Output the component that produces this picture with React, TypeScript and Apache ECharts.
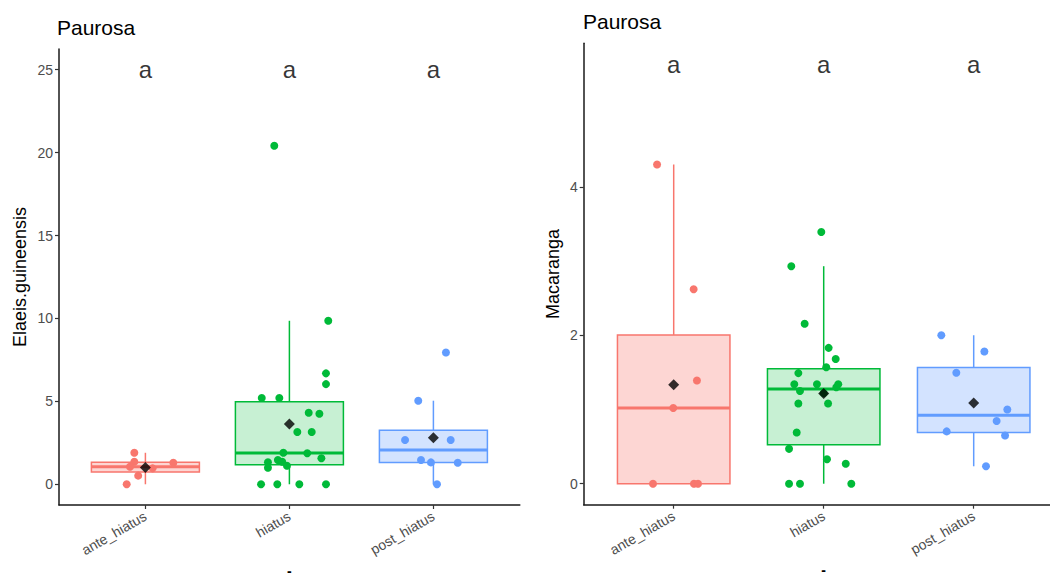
import React, { useEffect, useRef } from "react";
import * as echarts from "echarts";

// ---- data ----
const categories = ["ante_hiatus", "hiatus", "post_hiatus"];
const groupColors = ["#F8766D", "#00BA38", "#619CFF"];
const groupFills = ["rgba(248,118,109,0.3)", "rgba(0,186,56,0.22)", "rgba(97,156,255,0.28)"];
const panelTitles = ["Paurosa", "Paurosa"];
const yNames = ["Elaeis.guineensis", "Macaranga"];
const letters = ["a", "a", "a"];

// Elaeis.guineensis values and horizontal jitter (category units)
const elaeisAnte = [1.9, 1.36, 1.06, 0.52, 0, 1.3, 0.96];
const elaeisAnteJit = [-0.077, -0.077, -0.107, -0.05, -0.13, 0.194, 0.05];
const elaeisHiatus = [20.42, 9.86, 6.69, 6.04, 5.2, 5.2, 4.31, 4.25, 3.15, 3.15, 1.9, 1.87, 1.57, 1.46, 1.36, 1.33, 1.0, 1.12, 0, 0, 0, 0];
const elaeisHiatusJit = [-0.105, 0.27, 0.254, 0.254, -0.192, -0.07, 0.134, 0.208, 0.055, 0.155, -0.042, 0.124, 0.222, -0.08, -0.05, -0.149, -0.149, -0.017, -0.197, -0.084, 0.069, 0.254];
const elaeisPost = [7.95, 5.04, 2.67, 2.67, 1.46, 1.32, 1.3, 0];
const elaeisPostJit = [0.087, -0.105, -0.197, 0.12, -0.086, -0.017, 0.169, 0.025];

// Macaranga values and jitter
const macAnte = [4.3, 2.62, 1.39, 1.02, 0, 0, 0];
const macAnteJit = [-0.111, 0.133, 0.155, -0.003, -0.138, 0.135, 0.162];
const macHiatus = [3.39, 2.93, 2.155, 1.83, 1.68, 1.57, 1.49, 1.34, 1.34, 1.34, 1.3, 1.25, 1.22, 1.08, 1.08, 0.69, 0.47, 0.33, 0.27, 0, 0, 0];
const macHiatusJit = [-0.016, -0.216, -0.127, 0.033, 0.08, 0.017, -0.169, -0.196, -0.045, 0.097, 0.084, -0.158, 0.0, -0.169, 0.029, -0.18, -0.231, 0.022, 0.147, -0.231, -0.158, 0.184];
const macPost = [2.0, 1.78, 1.495, 1.0, 0.845, 0.705, 0.65, 0.235];
const macPostJit = [-0.216, 0.071, -0.116, 0.224, 0.153, -0.18, 0.209, 0.082];

// axis ranges / ticks / letter heights
const yMin = [-1.25, -0.2825];
const yMax = [26.25, 5.9325];
const yTicks = [[0, 5, 10, 15, 20, 25], [0, 2, 4]];
const letterY = [25, 5.65];

const panels = [
  { values: [elaeisAnte, elaeisHiatus, elaeisPost], jit: [elaeisAnteJit, elaeisHiatusJit, elaeisPostJit] },
  { values: [macAnte, macHiatus, macPost], jit: [macAnteJit, macHiatusJit, macPostJit] },
];

function quantile(sorted: number[], p: number) {
  const h = (sorted.length - 1) * p;
  const lo = Math.floor(h);
  const hi = Math.ceil(h);
  return sorted[lo] + (h - lo) * (sorted[hi] - sorted[lo]);
}
function boxStats(vals: number[]) {
  const s = [...vals].sort((a, b) => a - b);
  const q1 = quantile(s, 0.25);
  const med = quantile(s, 0.5);
  const q3 = quantile(s, 0.75);
  const iqr = q3 - q1;
  const lowF = q1 - 1.5 * iqr;
  const highF = q3 + 1.5 * iqr;
  const low = Math.min(...s.filter((v) => v >= lowF));
  const high = Math.max(...s.filter((v) => v <= highF));
  return [low, q1, med, q3, high];
}
const mean = (v: number[]) => v.reduce((a, b) => a + b, 0) / v.length;

const FONT = "Liberation Sans, Arial, Helvetica, sans-serif";

export default function App() {
  const ref = useRef<HTMLDivElement>(null);
  useEffect(() => {
    if (!ref.current) return;
    const chart = echarts.init(ref.current, undefined, { renderer: "svg" });

    const grids = [
      { left: 59, top: 49, width: 460.8, height: 456, outerBoundsMode: "none", containLabel: false },
      { left: 583.7, top: 43.3, width: 480, height: 461.4, outerBoundsMode: "none", containLabel: false },
    ];

    const xAxes: any[] = [];
    const yAxes: any[] = [];
    const series: any[] = [];

    panels.forEach((p, pi) => {
      xAxes.push({
        type: "value",
        gridIndex: pi,
        min: 0.4,
        max: 3.6,
        axisLine: { show: true, onZero: false, lineStyle: { color: "#1a1a1a", width: 1.5 } },
        axisTick: { show: true, customValues: [1, 2, 3], length: 4, lineStyle: { color: "#333", width: 1.2 } },
        axisLabel: {
          customValues: [1, 2, 3],
          formatter: (v: number) => categories[Math.round(v) - 1],
          rotate: 30,
          fontSize: 14,
          color: "#4D4D4D",
          fontFamily: FONT,
          margin: 10,
        },
        splitLine: { show: false },
        name: "-",
        nameLocation: "middle",
        nameGap: 54,
        nameTextStyle: { fontSize: 14, color: "#000", fontFamily: FONT, fontWeight: "bold" },
      });
      yAxes.push({
        type: "value",
        gridIndex: pi,
        min: yMin[pi],
        max: yMax[pi],
        axisLine: { show: true, onZero: false, lineStyle: { color: "#1a1a1a", width: 1.5 } },
        axisTick: { show: true, customValues: yTicks[pi], length: 4, lineStyle: { color: "#333", width: 1.2 } },
        axisLabel: { customValues: yTicks[pi], fontSize: 14, color: "#4D4D4D", fontFamily: FONT, margin: 6 },
        splitLine: { show: false },
        name: yNames[pi],
        nameLocation: "middle",
        nameGap: pi === 0 ? 30 : 22,
        nameTextStyle: { fontSize: 18, color: "#000", fontFamily: FONT },
      });

      const boxData = p.values.map((v, i) => [i + 1, ...boxStats(v)]);
      series.push({
        type: "custom",
        xAxisIndex: pi,
        yAxisIndex: pi,
        z: 1,
        data: boxData,
        renderItem: (params: any, api: any) => {
          const idx = params.dataIndex;
          const x = api.value(0);
          const low = api.coord([x, api.value(1)]);
          const q1 = api.coord([x, api.value(2)]);
          const med = api.coord([x, api.value(3)]);
          const q3 = api.coord([x, api.value(4)]);
          const high = api.coord([x, api.value(5)]);
          const halfW = api.size([0.75, 0])[0] / 2;
          const c = groupColors[idx];
          return {
            type: "group",
            children: [
              { type: "line", shape: { x1: high[0], y1: high[1], x2: q3[0], y2: q3[1] }, style: { stroke: c, lineWidth: 1.5 } },
              { type: "line", shape: { x1: low[0], y1: low[1], x2: q1[0], y2: q1[1] }, style: { stroke: c, lineWidth: 1.5 } },
              {
                type: "rect",
                shape: { x: q3[0] - halfW, y: q3[1], width: halfW * 2, height: q1[1] - q3[1] },
                style: { fill: groupFills[idx], stroke: c, lineWidth: 1.5 },
              },
              { type: "line", shape: { x1: med[0] - halfW, y1: med[1], x2: med[0] + halfW, y2: med[1] }, style: { stroke: c, lineWidth: 3 } },
            ],
          };
        },
      });

      p.values.forEach((vals, ci) => {
        series.push({
          type: "scatter",
          xAxisIndex: pi,
          yAxisIndex: pi,
          z: 3,
          symbolSize: 8,
          itemStyle: { color: groupColors[ci], opacity: 1 },
          data: vals.map((v, k) => [ci + 1 + p.jit[ci][k], v]),
        });
      });

      series.push({
        type: "scatter",
        xAxisIndex: pi,
        yAxisIndex: pi,
        z: 4,
        symbol: "diamond",
        symbolSize: [11, 11],
        itemStyle: { color: "#000" },
        data: p.values.map((v, ci) => [ci + 1, mean(v)]),
      });

      series.push({
        type: "scatter",
        xAxisIndex: pi,
        yAxisIndex: pi,
        z: 5,
        symbolSize: 1,
        itemStyle: { color: "rgba(0,0,0,0)" },
        label: {
          show: true,
          position: "inside",
          formatter: (prm: any) => letters[prm.dataIndex],
          fontSize: 24,
          color: "#000",
          fontFamily: FONT,
        },
        data: letters.map((_, ci) => [ci + 1, letterY[pi]]),
      });
    });

    chart.setOption({
      animation: false,
      backgroundColor: "#fff",
      title: [
        { text: panelTitles[0], left: 57, top: 17, padding: 0, textStyle: { fontSize: 21, fontWeight: "normal", color: "#000", fontFamily: FONT } },
        { text: panelTitles[1], left: 583, top: 11, padding: 0, textStyle: { fontSize: 21, fontWeight: "normal", color: "#000", fontFamily: FONT } },
      ],
      grid: grids,
      xAxis: xAxes,
      yAxis: yAxes,
      series,
    });
    return () => chart.dispose();
  }, []);
  return <div ref={ref} style={{ position: "fixed", left: 0, top: 0, width: 1050, height: 578 }} />;
}
